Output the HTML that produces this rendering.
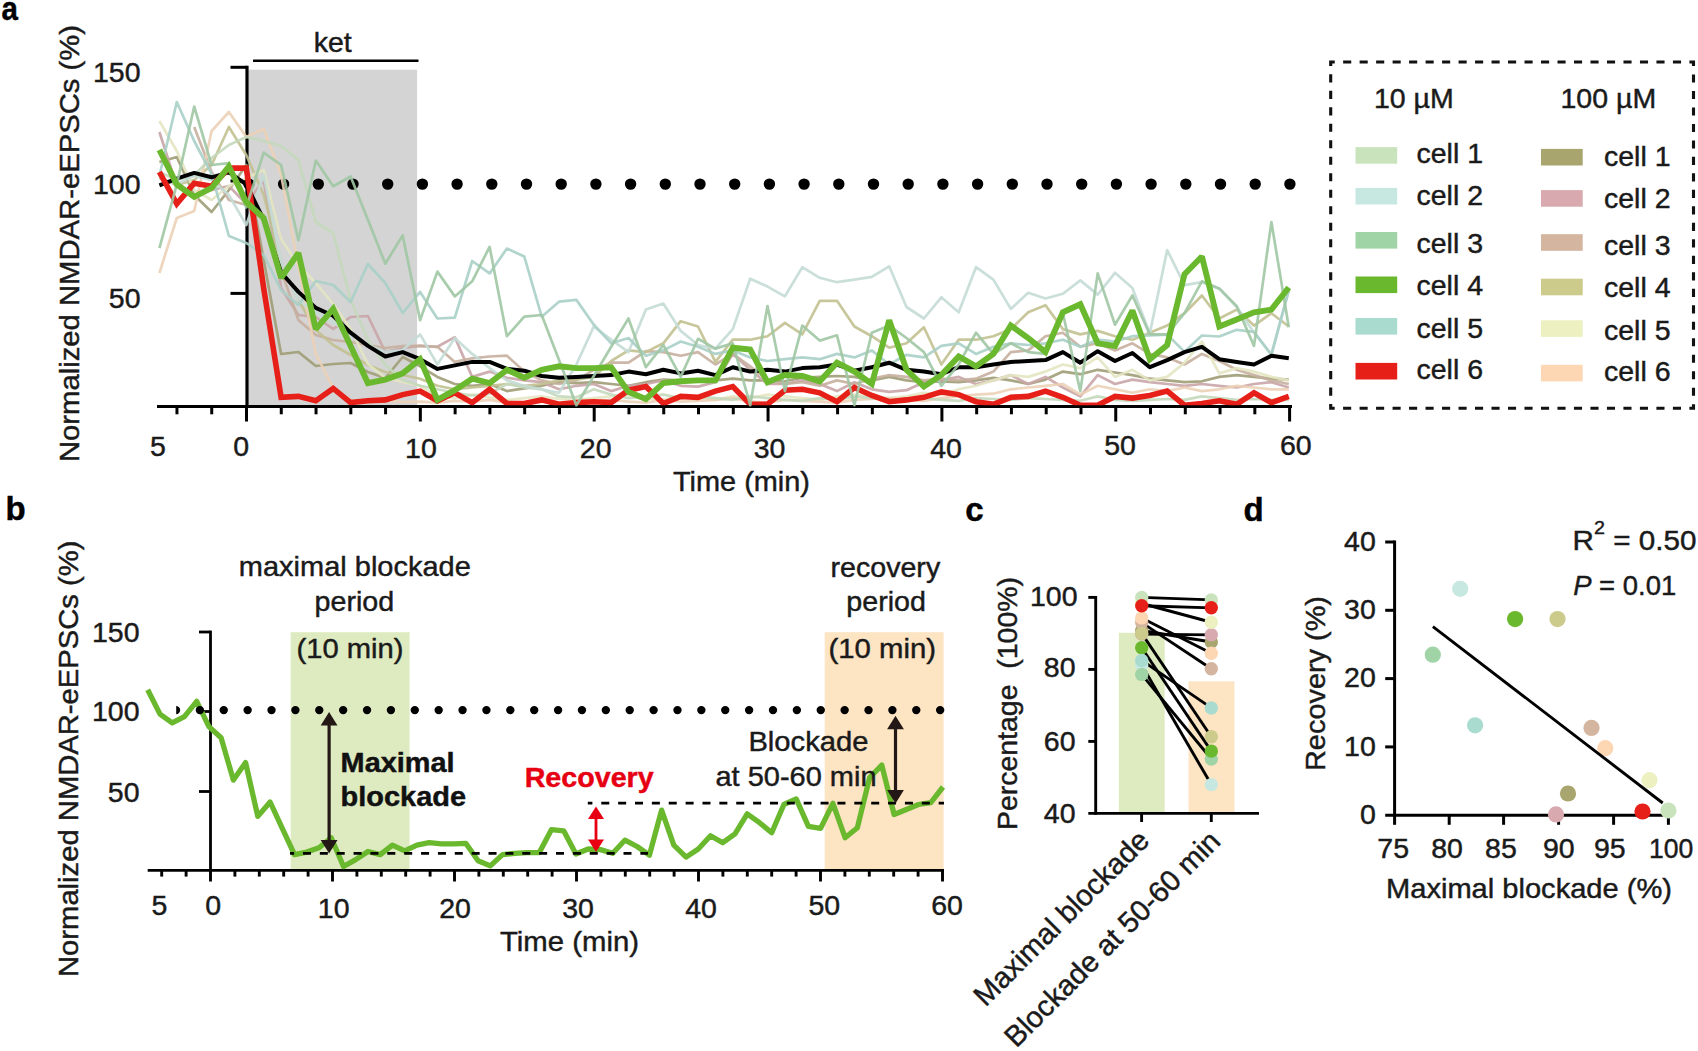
<!DOCTYPE html>
<html lang="en">
<head>
<meta charset="utf-8">
<title>Figure: ketamine blockade of NMDAR-eEPSCs</title>
<style>
html,body{margin:0;padding:0;background:#fff;}
body{width:1698px;height:1051px;overflow:hidden;}
svg{display:block;font-family:'Liberation Sans', sans-serif;}
</style>
</head>
<body>
<svg width="1698" height="1051" viewBox="0 0 1698 1051">
<rect width="1698" height="1051" fill="#ffffff"/>
<g id="panel-a">
<rect x="248.3" y="69.7" width="168.8" height="336" fill="#d4d4d4"/>
<line x1="253.00" y1="60.80" x2="418.50" y2="60.80" stroke="#000" stroke-width="2.6"/>
<line x1="248.9" y1="184.1" x2="1290.5" y2="184.1" stroke="#000" stroke-width="11.4" stroke-linecap="round" stroke-dasharray="0 34.7"/>
<line x1="247.00" y1="65.80" x2="247.00" y2="408.00" stroke="#000" stroke-width="3.2"/>
<line x1="157.00" y1="406.50" x2="1292.00" y2="406.50" stroke="#000" stroke-width="3.2"/>
<line x1="230.50" y1="67.30" x2="247.00" y2="67.30" stroke="#000" stroke-width="3.0"/>
<line x1="230.50" y1="181.00" x2="247.00" y2="181.00" stroke="#000" stroke-width="3.0"/>
<line x1="230.50" y1="293.40" x2="247.00" y2="293.40" stroke="#000" stroke-width="3.0"/>
<line x1="176.96" y1="406.50" x2="176.96" y2="414.30" stroke="#000" stroke-width="3.0"/>
<line x1="211.73" y1="406.50" x2="211.73" y2="414.30" stroke="#000" stroke-width="3.0"/>
<line x1="246.50" y1="406.50" x2="246.50" y2="421.50" stroke="#000" stroke-width="3.0"/>
<line x1="281.27" y1="406.50" x2="281.27" y2="414.30" stroke="#000" stroke-width="3.0"/>
<line x1="316.04" y1="406.50" x2="316.04" y2="414.30" stroke="#000" stroke-width="3.0"/>
<line x1="350.81" y1="406.50" x2="350.81" y2="414.30" stroke="#000" stroke-width="3.0"/>
<line x1="385.58" y1="406.50" x2="385.58" y2="414.30" stroke="#000" stroke-width="3.0"/>
<line x1="420.35" y1="406.50" x2="420.35" y2="421.50" stroke="#000" stroke-width="3.0"/>
<line x1="455.12" y1="406.50" x2="455.12" y2="414.30" stroke="#000" stroke-width="3.0"/>
<line x1="489.89" y1="406.50" x2="489.89" y2="414.30" stroke="#000" stroke-width="3.0"/>
<line x1="524.66" y1="406.50" x2="524.66" y2="414.30" stroke="#000" stroke-width="3.0"/>
<line x1="559.43" y1="406.50" x2="559.43" y2="414.30" stroke="#000" stroke-width="3.0"/>
<line x1="594.20" y1="406.50" x2="594.20" y2="421.50" stroke="#000" stroke-width="3.0"/>
<line x1="628.97" y1="406.50" x2="628.97" y2="414.30" stroke="#000" stroke-width="3.0"/>
<line x1="663.74" y1="406.50" x2="663.74" y2="414.30" stroke="#000" stroke-width="3.0"/>
<line x1="698.51" y1="406.50" x2="698.51" y2="414.30" stroke="#000" stroke-width="3.0"/>
<line x1="733.28" y1="406.50" x2="733.28" y2="414.30" stroke="#000" stroke-width="3.0"/>
<line x1="768.05" y1="406.50" x2="768.05" y2="421.50" stroke="#000" stroke-width="3.0"/>
<line x1="802.82" y1="406.50" x2="802.82" y2="414.30" stroke="#000" stroke-width="3.0"/>
<line x1="837.59" y1="406.50" x2="837.59" y2="414.30" stroke="#000" stroke-width="3.0"/>
<line x1="872.36" y1="406.50" x2="872.36" y2="414.30" stroke="#000" stroke-width="3.0"/>
<line x1="907.13" y1="406.50" x2="907.13" y2="414.30" stroke="#000" stroke-width="3.0"/>
<line x1="941.90" y1="406.50" x2="941.90" y2="421.50" stroke="#000" stroke-width="3.0"/>
<line x1="976.67" y1="406.50" x2="976.67" y2="414.30" stroke="#000" stroke-width="3.0"/>
<line x1="1011.44" y1="406.50" x2="1011.44" y2="414.30" stroke="#000" stroke-width="3.0"/>
<line x1="1046.21" y1="406.50" x2="1046.21" y2="414.30" stroke="#000" stroke-width="3.0"/>
<line x1="1080.98" y1="406.50" x2="1080.98" y2="414.30" stroke="#000" stroke-width="3.0"/>
<line x1="1115.75" y1="406.50" x2="1115.75" y2="421.50" stroke="#000" stroke-width="3.0"/>
<line x1="1150.52" y1="406.50" x2="1150.52" y2="414.30" stroke="#000" stroke-width="3.0"/>
<line x1="1185.29" y1="406.50" x2="1185.29" y2="414.30" stroke="#000" stroke-width="3.0"/>
<line x1="1220.06" y1="406.50" x2="1220.06" y2="414.30" stroke="#000" stroke-width="3.0"/>
<line x1="1254.83" y1="406.50" x2="1254.83" y2="414.30" stroke="#000" stroke-width="3.0"/>
<line x1="1289.60" y1="406.50" x2="1289.60" y2="421.50" stroke="#000" stroke-width="3.0"/>
<polyline points="159.4,162.0 176.8,157.0 194.2,195.0 211.6,212.0 228.9,190.0 246.3,165.0 263.7,260.0 281.1,354.0 298.4,352.0 315.8,366.0 333.2,364.0 350.6,363.0 367.9,372.0 385.3,378.0 402.7,357.0 420.1,366.3 437.4,376.9 454.8,384.0 472.2,385.8 489.6,384.0 506.9,391.1 524.3,388.4 541.7,385.8 559.0,382.2 576.4,383.1 593.8,382.2 611.2,384.0 628.5,385.8 645.9,382.2 663.3,379.6 680.7,380.4 698.0,380.4 715.4,380.4 732.8,378.7 750.2,380.4 767.5,380.4 784.9,381.3 802.3,377.8 819.7,376.9 837.0,376.0 854.4,376.9 871.8,380.4 889.2,376.9 906.5,380.4 923.9,382.2 941.3,381.3 958.7,382.2 976.0,380.4 993.4,377.8 1010.8,380.4 1028.2,384.0 1045.5,379.6 1062.9,371.6 1080.3,374.2 1097.7,369.8 1115.0,372.5 1132.4,375.1 1149.8,378.7 1167.2,380.4 1184.5,382.2 1201.9,381.3 1219.3,376.9 1236.7,375.1 1254.0,376.9 1271.4,378.7 1288.8,379.6" fill="none" stroke="#a09d75" stroke-width="2.7" stroke-linejoin="round" stroke-opacity="0.9"/>
<polyline points="159.4,132.0 176.8,186.0 194.2,195.0 211.6,190.0 228.9,186.0 246.3,204.0 263.7,180.0 281.1,288.0 298.4,315.0 315.8,317.0 333.2,329.0 350.6,317.0 367.9,316.0 385.3,352.0 402.7,348.0 420.1,345.9 437.4,346.8 454.8,337.1 472.2,376.9 489.6,371.6 506.9,377.8 524.3,380.4 541.7,382.2 559.0,389.3 576.4,385.8 593.8,384.0 611.2,391.1 628.5,385.8 645.9,384.0 663.3,380.4 680.7,385.8 698.0,386.6 715.4,382.2 732.8,353.9 750.2,369.8 767.5,384.0 784.9,384.0 802.3,380.4 819.7,384.0 837.0,391.1 854.4,382.2 871.8,389.3 889.2,391.9 906.5,390.2 923.9,382.2 941.3,380.4 958.7,376.9 976.0,384.0 993.4,380.4 1010.8,375.1 1028.2,384.0 1045.5,376.9 1062.9,387.5 1080.3,396.4 1097.7,375.1 1115.0,384.0 1132.4,379.6 1149.8,382.2 1167.2,384.0 1184.5,385.8 1201.9,384.0 1219.3,385.8 1236.7,387.5 1254.0,384.0 1271.4,382.2 1288.8,387.5" fill="none" stroke="#c9a5a9" stroke-width="2.7" stroke-linejoin="round" stroke-opacity="0.9"/>
<polyline points="194.2,127.0 211.6,172.0 228.9,200.0 246.3,205.0 263.7,215.0 281.1,270.0 298.4,320.0 315.8,335.0 333.2,340.0 350.6,342.0 367.9,345.0 385.3,348.0 402.7,346.0 420.1,345.9 437.4,346.8 454.8,361.9 472.2,358.3 489.6,356.5 506.9,355.7 524.3,371.6 541.7,380.4 559.0,384.0 576.4,380.4 593.8,369.8 611.2,362.7 628.5,362.7 645.9,351.2 663.3,352.1 680.7,355.7 698.0,352.1 715.4,364.5 732.8,353.9 750.2,366.3 767.5,380.4 784.9,384.0 802.3,382.2 819.7,385.8 837.0,380.4 854.4,384.0 871.8,378.7 889.2,375.1 906.5,376.9 923.9,380.4 941.3,378.7 958.7,380.4 976.0,378.7 993.4,371.6 1010.8,352.1 1028.2,350.4 1045.5,336.2 1062.9,332.7 1080.3,346.8 1097.7,343.3 1115.0,350.4 1132.4,343.3 1149.8,353.9 1167.2,357.4 1184.5,364.5 1201.9,353.9 1219.3,361.0 1236.7,369.8 1254.0,375.1 1271.4,380.4 1288.8,384.0" fill="none" stroke="#c6af9f" stroke-width="2.7" stroke-linejoin="round" stroke-opacity="0.9"/>
<polyline points="159.4,178.0 176.8,185.0 194.2,180.0 211.6,165.0 228.9,127.0 246.3,155.0 263.7,195.0 281.1,262.0 298.4,300.0 315.8,330.0 333.2,345.0 350.6,355.0 367.9,365.0 385.3,372.0 402.7,375.0 420.1,378.7 437.4,385.8 454.8,389.3 472.2,387.5 489.6,385.8 506.9,384.0 524.3,385.8 541.7,384.0 559.0,380.4 576.4,379.6 593.8,376.9 611.2,361.0 628.5,350.4 645.9,352.1 663.3,343.3 680.7,321.2 698.0,326.5 715.4,361.9 732.8,339.7 750.2,339.7 767.5,336.2 784.9,322.9 802.3,334.4 819.7,300.8 837.0,300.8 854.4,326.5 871.8,336.2 889.2,347.7 906.5,343.3 923.9,327.3 941.3,364.5 958.7,339.7 976.0,339.7 993.4,336.2 1010.8,329.1 1028.2,312.3 1045.5,305.2 1062.9,329.1 1080.3,334.4 1097.7,330.9 1115.0,336.2 1132.4,339.7 1149.8,332.7 1167.2,325.6 1184.5,313.2 1201.9,295.5 1219.3,318.5 1236.7,309.6 1254.0,325.6 1271.4,313.2 1288.8,326.5" fill="none" stroke="#c2c191" stroke-width="2.7" stroke-linejoin="round" stroke-opacity="0.9"/>
<polyline points="159.4,121.0 176.8,151.0 194.2,190.0 211.6,200.0 228.9,186.0 246.3,178.0 263.7,170.0 281.1,239.0 298.4,265.0 315.8,283.0 333.2,304.0 350.6,329.0 367.9,364.0 385.3,378.0 402.7,382.0 420.1,385.8 437.4,396.4 454.8,398.1 472.2,394.6 489.6,397.3 506.9,399.9 524.3,398.1 541.7,396.4 559.0,399.0 576.4,399.9 593.8,398.1 611.2,396.4 628.5,394.6 645.9,398.1 663.3,399.9 680.7,396.4 698.0,398.1 715.4,399.9 732.8,396.4 750.2,398.1 767.5,394.6 784.9,396.4 802.3,398.1 819.7,399.9 837.0,396.4 854.4,394.6 871.8,396.4 889.2,398.1 906.5,396.4 923.9,392.8 941.3,394.6 958.7,389.3 976.0,385.8 993.4,380.4 1010.8,375.1 1028.2,376.9 1045.5,371.6 1062.9,364.5 1080.3,368.1 1097.7,357.4 1115.0,376.9 1132.4,369.8 1149.8,380.4 1167.2,376.9 1184.5,362.7 1201.9,341.5 1219.3,373.4 1236.7,368.1 1254.0,371.6 1271.4,376.9 1288.8,380.4" fill="none" stroke="#e3e6c2" stroke-width="2.7" stroke-linejoin="round" stroke-opacity="0.9"/>
<polyline points="159.4,273.0 176.8,218.0 194.2,211.0 211.6,131.0 228.9,112.0 246.3,137.0 263.7,129.0 281.1,175.0 298.4,266.0 315.8,354.0 333.2,388.0 350.6,400.0 367.9,402.0 385.3,401.0 402.7,402.0 420.1,401.7 437.4,402.6 454.8,400.8 472.2,401.7 489.6,399.9 506.9,402.6 524.3,403.5 541.7,401.7 559.0,402.6 576.4,403.5 593.8,401.7 611.2,399.9 628.5,401.7 645.9,402.6 663.3,399.9 680.7,401.7 698.0,400.8 715.4,399.9 732.8,398.1 750.2,401.7 767.5,402.6 784.9,399.9 802.3,400.8 819.7,401.7 837.0,402.6 854.4,399.9 871.8,399.0 889.2,398.1 906.5,399.9 923.9,400.8 941.3,398.1 958.7,396.4 976.0,394.6 993.4,393.7 1010.8,389.3 1028.2,387.5 1045.5,385.8 1062.9,384.0 1080.3,394.6 1097.7,385.8 1115.0,389.3 1132.4,392.8 1149.8,389.3 1167.2,391.1 1184.5,387.5 1201.9,391.1 1219.3,389.3 1236.7,385.8 1254.0,387.5 1271.4,389.3 1288.8,389.3" fill="none" stroke="#ecd0b6" stroke-width="2.7" stroke-linejoin="round" stroke-opacity="0.9"/>
<polyline points="159.4,172.0 176.8,180.0 194.2,175.0 211.6,158.0 228.9,145.0 246.3,137.0 263.7,141.0 281.1,146.0 298.4,160.0 315.8,222.0 333.2,233.0 350.6,300.0 367.9,340.0 385.3,365.0 402.7,380.0 420.1,385.8 437.4,389.3 454.8,392.8 472.2,395.5 489.6,393.7 506.9,384.0 524.3,387.5 541.7,389.3 559.0,396.4 576.4,397.3 593.8,389.3 611.2,394.6 628.5,398.1 645.9,396.4 663.3,394.6 680.7,398.1 698.0,396.4 715.4,398.1 732.8,399.9 750.2,396.4 767.5,398.1 784.9,399.9 802.3,400.8 819.7,398.1 837.0,399.9 854.4,396.4 871.8,398.1 889.2,399.9 906.5,399.0 923.9,398.1 941.3,399.9 958.7,400.8 976.0,398.1 993.4,399.0 1010.8,399.9 1028.2,398.1 1045.5,399.0 1062.9,399.9 1080.3,400.8 1097.7,396.4 1115.0,399.9 1132.4,400.8 1149.8,399.9 1167.2,399.0 1184.5,399.9 1201.9,396.4 1219.3,398.1 1236.7,399.9 1254.0,399.0 1271.4,399.9 1288.8,399.9" fill="none" stroke="#c4d8bb" stroke-width="2.7" stroke-linejoin="round" stroke-opacity="0.9"/>
<polyline points="159.4,178.0 176.8,184.0 194.2,176.0 211.6,180.0 228.9,195.0 246.3,225.0 263.7,175.0 281.1,262.0 298.4,300.0 315.8,312.0 333.2,322.0 350.6,335.0 367.9,345.0 385.3,352.0 402.7,350.0 420.1,334.4 437.4,364.5 454.8,338.0 472.2,353.9 489.6,368.1 506.9,380.4 524.3,385.8 541.7,389.3 559.0,392.8 576.4,364.5 593.8,326.5 611.2,339.7 628.5,352.1 645.9,309.6 663.3,303.5 680.7,330.9 698.0,345.0 715.4,348.6 732.8,329.1 750.2,278.7 767.5,286.6 784.9,296.4 802.3,267.2 819.7,277.8 837.0,282.2 854.4,279.6 871.8,276.9 889.2,266.3 906.5,307.0 923.9,318.5 941.3,297.3 958.7,312.3 976.0,267.2 993.4,279.6 1010.8,308.9 1028.2,292.8 1045.5,298.5 1062.9,293.7 1080.3,280.4 1097.7,294.6 1115.0,272.8 1132.4,288.1 1149.8,333.5 1167.2,250.0 1184.5,285.2 1201.9,282.2 1219.3,288.9 1236.7,307.0 1254.0,332.7 1271.4,354.6 1288.8,290.9" fill="none" stroke="#c4dcd6" stroke-width="2.7" stroke-linejoin="round" stroke-opacity="0.9"/>
<polyline points="159.4,176.0 176.8,102.0 194.2,141.0 211.6,174.0 228.9,236.0 246.3,243.0 263.7,255.0 281.1,290.0 298.4,305.0 315.8,281.0 333.2,285.0 350.6,302.0 367.9,264.0 385.3,283.0 402.7,313.0 420.1,291.9 437.4,318.5 454.8,317.6 472.2,261.0 489.6,273.4 506.9,248.6 524.3,256.5 541.7,316.7 559.0,301.7 576.4,299.9 593.8,324.7 611.2,343.3 628.5,338.0 645.9,355.7 663.3,350.4 680.7,341.5 698.0,346.8 715.4,353.9 732.8,350.4 750.2,357.4 767.5,361.0 784.9,359.2 802.3,357.4 819.7,359.2 837.0,353.9 854.4,357.4 871.8,350.4 889.2,364.5 906.5,354.8 923.9,357.4 941.3,345.9 958.7,343.3 976.0,353.9 993.4,346.8 1010.8,343.3 1028.2,345.0 1045.5,343.3 1062.9,339.7 1080.3,346.8 1097.7,339.7 1115.0,341.5 1132.4,336.2 1149.8,335.5 1167.2,334.6 1184.5,351.8 1201.9,335.5 1219.3,336.5 1236.7,329.8 1254.0,331.8 1271.4,354.6 1288.8,289.8" fill="none" stroke="#a9cfc6" stroke-width="2.7" stroke-linejoin="round" stroke-opacity="0.9"/>
<clipPath id="ca"><rect x="100" y="0" width="1300" height="405.2"/></clipPath>
<g clip-path="url(#ca)">
<polyline points="159.4,185.3 176.8,178.6 194.2,172.9 211.6,177.3 228.9,172.4 246.3,184.4 263.7,219.8 281.1,272.5 298.4,291.9 315.8,307.9 333.2,315.8 350.6,332.7 367.9,345.9 385.3,356.5 402.7,352.1 420.1,359.2 437.4,368.9 454.8,365.4 472.2,361.9 489.6,361.9 506.9,368.9 524.3,370.7 541.7,376.0 559.0,377.8 576.4,376.9 593.8,376.0 611.2,375.1 628.5,371.6 645.9,374.2 663.3,369.8 680.7,373.4 698.0,370.7 715.4,375.1 732.8,367.2 750.2,371.6 767.5,369.8 784.9,371.6 802.3,368.1 819.7,367.2 837.0,364.5 854.4,370.7 871.8,367.2 889.2,362.7 906.5,369.8 923.9,371.6 941.3,374.2 958.7,367.2 976.0,367.2 993.4,364.5 1010.8,361.9 1028.2,361.0 1045.5,360.1 1062.9,352.1 1080.3,362.7 1097.7,351.2 1115.0,361.0 1132.4,353.0 1149.8,367.2 1167.2,360.1 1184.5,352.1 1201.9,346.8 1219.3,359.2 1236.7,361.9 1254.0,364.5 1271.4,355.7 1288.8,358.3" fill="none" stroke="#000" stroke-width="4.0" stroke-linejoin="round"/>
<polyline points="159.4,172.0 176.8,203.9 194.2,183.2 211.6,186.2 228.9,168.1 246.3,168.1 263.7,288.4 281.1,397.3 298.4,396.4 315.8,400.8 333.2,388.4 350.6,402.6 367.9,400.8 385.3,399.9 402.7,394.6 420.1,391.1 437.4,400.8 454.8,392.8 472.2,402.6 489.6,389.3 506.9,403.5 524.3,403.5 541.7,399.9 559.0,404.3 576.4,402.6 593.8,401.7 611.2,402.6 628.5,390.2 645.9,386.6 663.3,403.5 680.7,396.4 698.0,397.3 715.4,391.1 732.8,386.6 750.2,404.3 767.5,404.3 784.9,390.2 802.3,389.3 819.7,392.8 837.0,401.7 854.4,387.5 871.8,395.5 889.2,401.7 906.5,399.9 923.9,397.3 941.3,391.9 958.7,394.6 976.0,401.7 993.4,404.3 1010.8,397.3 1028.2,396.4 1045.5,391.1 1062.9,397.3 1080.3,405.2 1097.7,405.2 1115.0,396.4 1132.4,398.1 1149.8,395.5 1167.2,391.1 1184.5,405.2 1201.9,403.5 1219.3,400.8 1236.7,404.3 1254.0,392.8 1271.4,402.6 1288.8,396.4" fill="none" stroke="#e71f19" stroke-width="5.6" stroke-linejoin="miter" stroke-miterlimit="2"/>
</g>
<polyline points="159.4,248.1 176.8,184.4 194.2,106.5 211.6,165.0 228.9,163.2 246.3,207.4 263.7,152.6 281.1,165.0 298.4,240.2 315.8,160.5 333.2,186.2 350.6,176.5 367.9,219.8 385.3,263.7 402.7,235.4 420.1,320.3 437.4,271.6 454.8,296.4 472.2,281.3 489.6,246.8 506.9,336.2 524.3,316.7 541.7,315.0 559.0,360.1 576.4,405.2 593.8,376.0 611.2,346.8 628.5,318.5 645.9,367.2 663.3,345.0 680.7,376.9 698.0,338.8 715.4,348.6 732.8,343.3 750.2,405.2 767.5,306.1 784.9,391.1 802.3,325.6 819.7,340.6 837.0,335.3 854.4,405.2 871.8,332.7 889.2,325.6 906.5,338.0 923.9,352.1 941.3,385.8 958.7,364.5 976.0,332.7 993.4,353.9 1010.8,343.3 1028.2,352.1 1045.5,353.9 1062.9,313.2 1080.3,391.1 1097.7,273.4 1115.0,324.7 1132.4,295.5 1149.8,334.4 1167.2,334.4 1184.5,313.2 1201.9,281.3 1219.3,288.4 1236.7,306.1 1254.0,345.9 1271.4,222.0 1288.8,327.3" fill="none" stroke="#a0c6a4" stroke-width="2.7" stroke-linejoin="round" stroke-opacity="0.9"/>
<g clip-path="url(#ca)">
<polyline points="159.4,149.9 176.8,184.4 194.2,196.8 211.6,188.0 228.9,166.4 246.3,202.1 263.7,218.1 281.1,277.8 298.4,253.0 315.8,329.1 333.2,308.8 350.6,345.9 367.9,383.1 385.3,379.6 402.7,373.4 420.1,359.2 437.4,399.9 454.8,390.2 472.2,378.7 489.6,383.1 506.9,369.8 524.3,377.8 541.7,369.8 559.0,366.3 576.4,368.1 593.8,368.1 611.2,367.2 628.5,391.9 645.9,399.0 663.3,383.1 680.7,381.3 698.0,380.4 715.4,380.4 732.8,347.7 750.2,349.5 767.5,382.2 784.9,375.1 802.3,376.0 819.7,381.3 837.0,362.7 854.4,371.6 871.8,384.0 889.2,320.3 906.5,369.8 923.9,386.6 941.3,375.1 958.7,356.5 976.0,366.3 993.4,353.9 1010.8,325.6 1028.2,338.0 1045.5,352.1 1062.9,312.3 1080.3,304.3 1097.7,343.3 1115.0,345.9 1132.4,310.5 1149.8,359.2 1167.2,345.0 1184.5,274.2 1201.9,256.5 1219.3,326.5 1236.7,319.4 1254.0,312.3 1271.4,309.6 1288.8,287.5" fill="none" stroke="#6ab82d" stroke-width="5.9" stroke-linejoin="miter" stroke-miterlimit="2"/>
</g>
<text x="332.7" y="51.7" font-size="28.5" text-anchor="middle" fill="#1a1a1a" stroke="#1a1a1a" stroke-width="0.45">ket</text>
<text x="140.5" y="81.8" font-size="28.5" text-anchor="end" fill="#1a1a1a" stroke="#1a1a1a" stroke-width="0.45">150</text>
<text x="140.5" y="194" font-size="28.5" text-anchor="end" fill="#1a1a1a" stroke="#1a1a1a" stroke-width="0.45">100</text>
<text x="140.5" y="308.2" font-size="28.5" text-anchor="end" fill="#1a1a1a" stroke="#1a1a1a" stroke-width="0.45">50</text>
<text x="158" y="456.2" font-size="28.5" text-anchor="middle" fill="#1a1a1a" stroke="#1a1a1a" stroke-width="0.45">5</text>
<text x="241.3" y="456.2" font-size="28.5" text-anchor="middle" fill="#1a1a1a" stroke="#1a1a1a" stroke-width="0.45">0</text>
<text x="420.9" y="458" font-size="28.5" text-anchor="middle" fill="#1a1a1a" stroke="#1a1a1a" stroke-width="0.45">10</text>
<text x="595.7" y="458" font-size="28.5" text-anchor="middle" fill="#1a1a1a" stroke="#1a1a1a" stroke-width="0.45">20</text>
<text x="769.6" y="458" font-size="28.5" text-anchor="middle" fill="#1a1a1a" stroke="#1a1a1a" stroke-width="0.45">30</text>
<text x="946.0" y="458" font-size="28.5" text-anchor="middle" fill="#1a1a1a" stroke="#1a1a1a" stroke-width="0.45">40</text>
<text x="1120.0" y="455.4" font-size="28.5" text-anchor="middle" fill="#1a1a1a" stroke="#1a1a1a" stroke-width="0.45">50</text>
<text x="1295.8" y="455.4" font-size="28.5" text-anchor="middle" fill="#1a1a1a" stroke="#1a1a1a" stroke-width="0.45">60</text>
<text x="673" y="490.5" font-size="28.5" textLength="137" lengthAdjust="spacingAndGlyphs" fill="#1a1a1a" stroke="#1a1a1a" stroke-width="0.45">Time (min)</text>
<text x="79" y="462" font-size="28.5" transform="rotate(-90 79 462)" textLength="437" lengthAdjust="spacingAndGlyphs" fill="#1a1a1a" stroke="#1a1a1a" stroke-width="0.45">Normalized NMDAR-eEPSCs (%)</text>
<text x="1.4" y="20.2" font-size="33" font-weight="bold" textLength="16.4" lengthAdjust="spacingAndGlyphs" fill="#000" stroke="#000" stroke-width="0.45">a</text>
</g>
<g id="legend">
<path d="M1330.7 62 h362.8 v346.2 h-362.8 z" fill="none" stroke="#111" stroke-width="3.1" stroke-dasharray="8.1 8.39" stroke-dashoffset="4.05"/>
<text x="1374" y="107.5" font-size="28.5" fill="#1a1a1a" stroke="#1a1a1a" stroke-width="0.45">10 µM</text>
<text x="1560.5" y="107.5" font-size="28.5" fill="#1a1a1a" stroke="#1a1a1a" stroke-width="0.45">100 µM</text>
<rect x="1355.5" y="147.1" width="41.7" height="16.6" fill="#c9e4bd"/>
<text x="1416.5" y="163.3" font-size="28.5" fill="#1a1a1a" stroke="#1a1a1a" stroke-width="0.45">cell 1</text>
<rect x="1355.5" y="187.9" width="41.7" height="16.6" fill="#c7e8e0"/>
<text x="1416.5" y="204.6" font-size="28.5" fill="#1a1a1a" stroke="#1a1a1a" stroke-width="0.45">cell 2</text>
<rect x="1355.5" y="232.0" width="41.7" height="16.6" fill="#a0d3a5"/>
<text x="1416.5" y="253.0" font-size="28.5" fill="#1a1a1a" stroke="#1a1a1a" stroke-width="0.45">cell 3</text>
<rect x="1355.5" y="276.5" width="41.7" height="16.6" fill="#6ab82d"/>
<text x="1416.5" y="294.6" font-size="28.5" fill="#1a1a1a" stroke="#1a1a1a" stroke-width="0.45">cell 4</text>
<rect x="1355.5" y="318.0" width="41.7" height="16.6" fill="#a9dbcf"/>
<text x="1416.5" y="338.3" font-size="28.5" fill="#1a1a1a" stroke="#1a1a1a" stroke-width="0.45">cell 5</text>
<rect x="1355.5" y="362.9" width="41.7" height="16.6" fill="#e71f19"/>
<text x="1416.5" y="379.3" font-size="28.5" fill="#1a1a1a" stroke="#1a1a1a" stroke-width="0.45">cell 6</text>
<rect x="1541" y="148.9" width="41.7" height="16.6" fill="#a9a56f"/>
<text x="1604" y="166.0" font-size="28.5" fill="#1a1a1a" stroke="#1a1a1a" stroke-width="0.45">cell 1</text>
<rect x="1541" y="190.1" width="41.7" height="16.6" fill="#d8a9ae"/>
<text x="1604" y="207.5" font-size="28.5" fill="#1a1a1a" stroke="#1a1a1a" stroke-width="0.45">cell 2</text>
<rect x="1541" y="234.2" width="41.7" height="16.6" fill="#d4b59f"/>
<text x="1604" y="254.8" font-size="28.5" fill="#1a1a1a" stroke="#1a1a1a" stroke-width="0.45">cell 3</text>
<rect x="1541" y="278.7" width="41.7" height="16.6" fill="#cccb8b"/>
<text x="1604" y="296.8" font-size="28.5" fill="#1a1a1a" stroke="#1a1a1a" stroke-width="0.45">cell 4</text>
<rect x="1541" y="320.3" width="41.7" height="16.6" fill="#edf1c1"/>
<text x="1604" y="339.5" font-size="28.5" fill="#1a1a1a" stroke="#1a1a1a" stroke-width="0.45">cell 5</text>
<rect x="1541" y="364.8" width="41.7" height="16.6" fill="#fdd7b4"/>
<text x="1604" y="381.1" font-size="28.5" fill="#1a1a1a" stroke="#1a1a1a" stroke-width="0.45">cell 6</text>
</g>
<g id="panel-b">
<rect x="290.7" y="632.2" width="118.9" height="237.5" fill="#deebc0"/>
<rect x="824.7" y="632.2" width="118.9" height="237.5" fill="#fde4c3"/>
<clipPath id="cb"><rect x="176.2" y="700" width="800" height="20"/></clipPath>
<line x1="210.50" y1="630.60" x2="210.50" y2="871.70" stroke="#000" stroke-width="2.8"/>
<line x1="147.70" y1="870.40" x2="944.00" y2="870.40" stroke="#000" stroke-width="2.9"/>
<line x1="199.00" y1="632.00" x2="210.50" y2="632.00" stroke="#000" stroke-width="2.8"/>
<line x1="199.00" y1="711.50" x2="210.50" y2="711.50" stroke="#000" stroke-width="2.8"/>
<line x1="199.00" y1="791.50" x2="210.50" y2="791.50" stroke="#000" stroke-width="2.8"/>
<line x1="161.70" y1="870.40" x2="161.70" y2="876.60" stroke="#000" stroke-width="2.9"/>
<line x1="186.10" y1="870.40" x2="186.10" y2="876.60" stroke="#000" stroke-width="2.9"/>
<line x1="210.50" y1="870.40" x2="210.50" y2="881.50" stroke="#000" stroke-width="2.9"/>
<line x1="234.90" y1="870.40" x2="234.90" y2="876.60" stroke="#000" stroke-width="2.9"/>
<line x1="259.30" y1="870.40" x2="259.30" y2="876.60" stroke="#000" stroke-width="2.9"/>
<line x1="283.70" y1="870.40" x2="283.70" y2="876.60" stroke="#000" stroke-width="2.9"/>
<line x1="308.10" y1="870.40" x2="308.10" y2="876.60" stroke="#000" stroke-width="2.9"/>
<line x1="332.50" y1="870.40" x2="332.50" y2="881.50" stroke="#000" stroke-width="2.9"/>
<line x1="356.90" y1="870.40" x2="356.90" y2="876.60" stroke="#000" stroke-width="2.9"/>
<line x1="381.30" y1="870.40" x2="381.30" y2="876.60" stroke="#000" stroke-width="2.9"/>
<line x1="405.70" y1="870.40" x2="405.70" y2="876.60" stroke="#000" stroke-width="2.9"/>
<line x1="430.10" y1="870.40" x2="430.10" y2="876.60" stroke="#000" stroke-width="2.9"/>
<line x1="454.50" y1="870.40" x2="454.50" y2="881.50" stroke="#000" stroke-width="2.9"/>
<line x1="478.90" y1="870.40" x2="478.90" y2="876.60" stroke="#000" stroke-width="2.9"/>
<line x1="503.30" y1="870.40" x2="503.30" y2="876.60" stroke="#000" stroke-width="2.9"/>
<line x1="527.70" y1="870.40" x2="527.70" y2="876.60" stroke="#000" stroke-width="2.9"/>
<line x1="552.10" y1="870.40" x2="552.10" y2="876.60" stroke="#000" stroke-width="2.9"/>
<line x1="576.50" y1="870.40" x2="576.50" y2="881.50" stroke="#000" stroke-width="2.9"/>
<line x1="600.90" y1="870.40" x2="600.90" y2="876.60" stroke="#000" stroke-width="2.9"/>
<line x1="625.30" y1="870.40" x2="625.30" y2="876.60" stroke="#000" stroke-width="2.9"/>
<line x1="649.70" y1="870.40" x2="649.70" y2="876.60" stroke="#000" stroke-width="2.9"/>
<line x1="674.10" y1="870.40" x2="674.10" y2="876.60" stroke="#000" stroke-width="2.9"/>
<line x1="698.50" y1="870.40" x2="698.50" y2="881.50" stroke="#000" stroke-width="2.9"/>
<line x1="722.90" y1="870.40" x2="722.90" y2="876.60" stroke="#000" stroke-width="2.9"/>
<line x1="747.30" y1="870.40" x2="747.30" y2="876.60" stroke="#000" stroke-width="2.9"/>
<line x1="771.70" y1="870.40" x2="771.70" y2="876.60" stroke="#000" stroke-width="2.9"/>
<line x1="796.10" y1="870.40" x2="796.10" y2="876.60" stroke="#000" stroke-width="2.9"/>
<line x1="820.50" y1="870.40" x2="820.50" y2="881.50" stroke="#000" stroke-width="2.9"/>
<line x1="844.90" y1="870.40" x2="844.90" y2="876.60" stroke="#000" stroke-width="2.9"/>
<line x1="869.30" y1="870.40" x2="869.30" y2="876.60" stroke="#000" stroke-width="2.9"/>
<line x1="893.70" y1="870.40" x2="893.70" y2="876.60" stroke="#000" stroke-width="2.9"/>
<line x1="918.10" y1="870.40" x2="918.10" y2="876.60" stroke="#000" stroke-width="2.9"/>
<line x1="942.50" y1="870.40" x2="942.50" y2="881.50" stroke="#000" stroke-width="2.9"/>
<polyline points="147.7,689.7 160.0,714.1 172.2,722.8 184.4,716.6 196.7,701.3 208.9,726.6 221.1,737.8 233.4,780.1 245.6,762.6 257.8,816.4 270.1,802.0 282.3,828.3 294.5,854.6 306.8,852.1 319.0,847.7 331.2,837.7 343.5,866.5 355.7,859.6 368.0,851.5 380.2,854.6 392.4,845.2 404.7,850.8 416.9,845.2 429.1,842.7 441.4,843.9 453.6,843.9 465.8,843.3 478.1,860.8 490.3,865.9 502.5,854.6 514.8,853.3 527.0,852.7 539.2,852.7 551.5,829.6 563.7,830.8 575.9,854.0 588.2,849.0 600.4,849.6 612.7,853.3 624.9,840.2 637.1,846.5 649.4,855.2 661.6,810.1 673.8,845.2 686.1,857.1 698.3,849.0 710.5,835.8 722.8,842.7 735.0,833.9 747.2,813.9 759.5,822.7 771.7,832.7 783.9,804.5 796.2,798.9 808.4,826.4 820.6,828.3 832.9,803.3 845.1,837.7 857.4,827.7 869.6,777.6 881.8,765.1 894.1,814.5 906.3,809.5 918.5,804.5 930.8,802.6 943.0,787.0" fill="none" stroke="#6ab82d" stroke-width="5.3" stroke-linejoin="round"/>
<line x1="176.0" y1="710.1" x2="945" y2="710.1" stroke="#000" stroke-width="8.4" stroke-linecap="round" stroke-dasharray="0 23.88" clip-path="url(#cb)"/>
<line x1="290.00" y1="853.30" x2="648.00" y2="853.30" stroke="#000" stroke-width="2.8" stroke-dasharray="8 8.87" stroke-dashoffset="3.9"/>
<line x1="587.80" y1="803.10" x2="944.00" y2="803.10" stroke="#000" stroke-width="2.8" stroke-dasharray="8 8.87" stroke-dashoffset="3.4"/>
<line x1="329.10" y1="724.50" x2="329.10" y2="840.90" stroke="#231815" stroke-width="3.2"/>
<polygon points="329.1,712 320.70000000000005,725.5 337.5,725.5" fill="#231815"/>
<polygon points="329.1,853.4 320.70000000000005,839.9 337.5,839.9" fill="#231815"/>
<line x1="895.50" y1="728.20" x2="895.50" y2="791.10" stroke="#231815" stroke-width="3.2"/>
<polygon points="895.5,715.7 887.1,729.2 903.9,729.2" fill="#231815"/>
<polygon points="895.5,803.6 887.1,790.1 903.9,790.1" fill="#231815"/>
<line x1="596.00" y1="818.00" x2="596.00" y2="840.50" stroke="#e60012" stroke-width="2.8"/>
<polygon points="596,806.5 588,819.0 604,819.0" fill="#e60012"/>
<polygon points="596,852 588,839.5 604,839.5" fill="#e60012"/>
<text x="238.8" y="576.4" font-size="28.5" textLength="232" lengthAdjust="spacingAndGlyphs" fill="#1a1a1a" stroke="#1a1a1a" stroke-width="0.45">maximal blockade</text>
<text x="314.6" y="611.4" font-size="28.5" textLength="79.6" lengthAdjust="spacingAndGlyphs" fill="#1a1a1a" stroke="#1a1a1a" stroke-width="0.45">period</text>
<text x="296.5" y="657.5" font-size="28.5" textLength="107" lengthAdjust="spacingAndGlyphs" fill="#1a1a1a" stroke="#1a1a1a" stroke-width="0.45">(10 min)</text>
<text x="830.5" y="577.4" font-size="28.5" textLength="109.7" lengthAdjust="spacingAndGlyphs" fill="#1a1a1a" stroke="#1a1a1a" stroke-width="0.45">recovery</text>
<text x="846.3" y="611.4" font-size="28.5" textLength="79.6" lengthAdjust="spacingAndGlyphs" fill="#1a1a1a" stroke="#1a1a1a" stroke-width="0.45">period</text>
<text x="828.5" y="657.5" font-size="28.5" textLength="107.5" lengthAdjust="spacingAndGlyphs" fill="#1a1a1a" stroke="#1a1a1a" stroke-width="0.45">(10 min)</text>
<text x="340.6" y="772" font-size="28.5" font-weight="bold" textLength="114" lengthAdjust="spacingAndGlyphs" fill="#111" stroke="#111" stroke-width="0.45">Maximal</text>
<text x="340.6" y="806.4" font-size="28.5" font-weight="bold" textLength="125.5" lengthAdjust="spacingAndGlyphs" fill="#111" stroke="#111" stroke-width="0.45">blockade</text>
<text x="524.7" y="787.1" font-size="28.5" font-weight="bold" textLength="129" lengthAdjust="spacingAndGlyphs" fill="#e60012" stroke="#e60012" stroke-width="0.45">Recovery</text>
<text x="748.4" y="751.2" font-size="28.5" textLength="120" lengthAdjust="spacingAndGlyphs" fill="#1a1a1a" stroke="#1a1a1a" stroke-width="0.45">Blockade</text>
<text x="715.5" y="786.1" font-size="28.5" textLength="161" lengthAdjust="spacingAndGlyphs" fill="#1a1a1a" stroke="#1a1a1a" stroke-width="0.45">at 50-60 min</text>
<text x="139.5" y="642" font-size="28.5" text-anchor="end" fill="#1a1a1a" stroke="#1a1a1a" stroke-width="0.45">150</text>
<text x="139.5" y="721" font-size="28.5" text-anchor="end" fill="#1a1a1a" stroke="#1a1a1a" stroke-width="0.45">100</text>
<text x="139.5" y="802.2" font-size="28.5" text-anchor="end" fill="#1a1a1a" stroke="#1a1a1a" stroke-width="0.45">50</text>
<text x="159.4" y="915" font-size="28.5" text-anchor="middle" fill="#1a1a1a" stroke="#1a1a1a" stroke-width="0.45">5</text>
<text x="213.2" y="915" font-size="28.5" text-anchor="middle" fill="#1a1a1a" stroke="#1a1a1a" stroke-width="0.45">0</text>
<text x="333.7" y="917.8" font-size="28.5" text-anchor="middle" fill="#1a1a1a" stroke="#1a1a1a" stroke-width="0.45">10</text>
<text x="455.0" y="917.8" font-size="28.5" text-anchor="middle" fill="#1a1a1a" stroke="#1a1a1a" stroke-width="0.45">20</text>
<text x="578.0" y="917.8" font-size="28.5" text-anchor="middle" fill="#1a1a1a" stroke="#1a1a1a" stroke-width="0.45">30</text>
<text x="701.0" y="917.8" font-size="28.5" text-anchor="middle" fill="#1a1a1a" stroke="#1a1a1a" stroke-width="0.45">40</text>
<text x="824.3" y="915" font-size="28.5" text-anchor="middle" fill="#1a1a1a" stroke="#1a1a1a" stroke-width="0.45">50</text>
<text x="947.0" y="915" font-size="28.5" text-anchor="middle" fill="#1a1a1a" stroke="#1a1a1a" stroke-width="0.45">60</text>
<text x="500" y="951" font-size="28.5" textLength="139" lengthAdjust="spacingAndGlyphs" fill="#1a1a1a" stroke="#1a1a1a" stroke-width="0.45">Time (min)</text>
<text x="77.5" y="977" font-size="28.5" transform="rotate(-90 77.5 977)" textLength="436.5" lengthAdjust="spacingAndGlyphs" fill="#1a1a1a" stroke="#1a1a1a" stroke-width="0.45">Normalized NMDAR-eEPSCs (%)</text>
<text x="5.5" y="520.3" font-size="33" font-weight="bold" fill="#000" stroke="#000" stroke-width="0.45">b</text>
</g>
<g id="panel-c">
<rect x="1118.9" y="632.8" width="45.8" height="180.6" fill="#deebc0"/>
<rect x="1188.5" y="681.3" width="46" height="132.1" fill="#fde4c3"/>
<line x1="1095.70" y1="596.00" x2="1095.70" y2="814.80" stroke="#000" stroke-width="2.9"/>
<line x1="1088.30" y1="813.40" x2="1259.00" y2="813.40" stroke="#000" stroke-width="2.9"/>
<line x1="1088.30" y1="597.40" x2="1095.70" y2="597.40" stroke="#000" stroke-width="2.9"/>
<line x1="1088.30" y1="669.40" x2="1095.70" y2="669.40" stroke="#000" stroke-width="2.9"/>
<line x1="1088.30" y1="741.40" x2="1095.70" y2="741.40" stroke="#000" stroke-width="2.9"/>
<line x1="1141.60" y1="813.40" x2="1141.60" y2="822.00" stroke="#000" stroke-width="2.9"/>
<line x1="1211.30" y1="813.40" x2="1211.30" y2="822.00" stroke="#000" stroke-width="2.9"/>
<line x1="1141.70" y1="630.52" x2="1211.30" y2="642.04" stroke="#000" stroke-width="2.9"/>
<line x1="1141.70" y1="634.12" x2="1211.30" y2="634.84" stroke="#000" stroke-width="2.9"/>
<line x1="1141.70" y1="622.60" x2="1211.30" y2="668.68" stroke="#000" stroke-width="2.9"/>
<line x1="1141.70" y1="633.40" x2="1211.30" y2="736.72" stroke="#000" stroke-width="2.9"/>
<line x1="1141.70" y1="603.52" x2="1211.30" y2="622.24" stroke="#000" stroke-width="2.9"/>
<line x1="1141.70" y1="617.92" x2="1211.30" y2="653.20" stroke="#000" stroke-width="2.9"/>
<line x1="1141.70" y1="597.40" x2="1211.30" y2="599.92" stroke="#000" stroke-width="2.9"/>
<line x1="1141.70" y1="665.08" x2="1211.30" y2="784.60" stroke="#000" stroke-width="2.9"/>
<line x1="1141.70" y1="674.44" x2="1211.30" y2="759.04" stroke="#000" stroke-width="2.9"/>
<line x1="1141.70" y1="647.80" x2="1211.30" y2="751.12" stroke="#000" stroke-width="2.9"/>
<line x1="1141.70" y1="660.40" x2="1211.30" y2="707.92" stroke="#000" stroke-width="2.9"/>
<line x1="1141.70" y1="605.68" x2="1211.30" y2="607.84" stroke="#000" stroke-width="2.9"/>
<circle cx="1141.7" cy="630.5" r="6.7" fill="#a9a56f"/>
<circle cx="1211.3" cy="642.0" r="6.7" fill="#a9a56f"/>
<circle cx="1141.7" cy="634.1" r="6.7" fill="#d8a9ae"/>
<circle cx="1211.3" cy="634.8" r="6.7" fill="#d8a9ae"/>
<circle cx="1141.7" cy="622.6" r="6.7" fill="#d4b59f"/>
<circle cx="1211.3" cy="668.7" r="6.7" fill="#d4b59f"/>
<circle cx="1141.7" cy="633.4" r="6.7" fill="#cccb8b"/>
<circle cx="1211.3" cy="736.7" r="6.7" fill="#cccb8b"/>
<circle cx="1141.7" cy="603.5" r="6.7" fill="#edf1c1"/>
<circle cx="1211.3" cy="622.2" r="6.7" fill="#edf1c1"/>
<circle cx="1141.7" cy="617.9" r="6.7" fill="#fdd7b4"/>
<circle cx="1211.3" cy="653.2" r="6.7" fill="#fdd7b4"/>
<circle cx="1141.7" cy="597.4" r="6.7" fill="#c9e4bd"/>
<circle cx="1211.3" cy="599.9" r="6.7" fill="#c9e4bd"/>
<circle cx="1141.7" cy="665.1" r="6.7" fill="#c7e8e0"/>
<circle cx="1211.3" cy="784.6" r="6.7" fill="#c7e8e0"/>
<circle cx="1141.7" cy="674.4" r="6.7" fill="#a0d3a5"/>
<circle cx="1211.3" cy="759.0" r="6.7" fill="#a0d3a5"/>
<circle cx="1141.7" cy="647.8" r="6.7" fill="#6ab82d"/>
<circle cx="1211.3" cy="751.1" r="6.7" fill="#6ab82d"/>
<circle cx="1141.7" cy="660.4" r="6.7" fill="#a9dbcf"/>
<circle cx="1211.3" cy="707.9" r="6.7" fill="#a9dbcf"/>
<circle cx="1141.7" cy="605.7" r="6.7" fill="#e71f19"/>
<circle cx="1211.3" cy="607.8" r="6.7" fill="#e71f19"/>
<text x="1077.5" y="606" font-size="28.5" text-anchor="end" fill="#1a1a1a" stroke="#1a1a1a" stroke-width="0.45">100</text>
<text x="1075.5" y="677.4" font-size="28.5" text-anchor="end" fill="#1a1a1a" stroke="#1a1a1a" stroke-width="0.45">80</text>
<text x="1075.5" y="750.7" font-size="28.5" text-anchor="end" fill="#1a1a1a" stroke="#1a1a1a" stroke-width="0.45">60</text>
<text x="1075.5" y="822.7" font-size="28.5" text-anchor="end" fill="#1a1a1a" stroke="#1a1a1a" stroke-width="0.45">40</text>
<text x="1016.6" y="830" font-size="28.5" transform="rotate(-90 1016.6 830)" textLength="253" lengthAdjust="spacingAndGlyphs" fill="#1a1a1a" stroke="#1a1a1a" stroke-width="0.45" xml:space="preserve">Percentage&#160;&#160;(100%)</text>
<text x="1151" y="842.2" font-size="29.3" text-anchor="end" transform="rotate(-45 1151 842.2)" textLength="234" lengthAdjust="spacingAndGlyphs" fill="#1a1a1a" stroke="#1a1a1a" stroke-width="0.45">Maximal blockade</text>
<text x="1222" y="843" font-size="29.3" text-anchor="end" transform="rotate(-45 1222 843)" textLength="291" lengthAdjust="spacingAndGlyphs" fill="#1a1a1a" stroke="#1a1a1a" stroke-width="0.45">Blockade at 50-60 min</text>
<text x="965.2" y="520.6" font-size="33" font-weight="bold" fill="#000" stroke="#000" stroke-width="0.45">c</text>
</g>
<g id="panel-d">
<line x1="1394.60" y1="540.50" x2="1394.60" y2="816.70" stroke="#000" stroke-width="3.0"/>
<line x1="1385.20" y1="815.20" x2="1670.00" y2="815.20" stroke="#000" stroke-width="3.0"/>
<line x1="1385.20" y1="542.00" x2="1394.60" y2="542.00" stroke="#000" stroke-width="3.0"/>
<line x1="1385.20" y1="610.30" x2="1394.60" y2="610.30" stroke="#000" stroke-width="3.0"/>
<line x1="1385.20" y1="678.60" x2="1394.60" y2="678.60" stroke="#000" stroke-width="3.0"/>
<line x1="1385.20" y1="746.90" x2="1394.60" y2="746.90" stroke="#000" stroke-width="3.0"/>
<line x1="1394.60" y1="815.20" x2="1394.60" y2="824.80" stroke="#000" stroke-width="3.0"/>
<line x1="1449.20" y1="815.20" x2="1449.20" y2="824.80" stroke="#000" stroke-width="3.0"/>
<line x1="1503.60" y1="815.20" x2="1503.60" y2="824.80" stroke="#000" stroke-width="3.0"/>
<line x1="1558.60" y1="815.20" x2="1558.60" y2="824.80" stroke="#000" stroke-width="3.0"/>
<line x1="1613.60" y1="815.20" x2="1613.60" y2="824.80" stroke="#000" stroke-width="3.0"/>
<line x1="1668.40" y1="815.20" x2="1668.40" y2="824.80" stroke="#000" stroke-width="3.0"/>
<circle cx="1568" cy="793.5" r="8.1" fill="#a9a56f"/>
<circle cx="1556" cy="814.4" r="8.1" fill="#d8a9ae"/>
<circle cx="1591.5" cy="727.9" r="8.1" fill="#d4b59f"/>
<circle cx="1557.5" cy="619.1" r="8.1" fill="#cccb8b"/>
<circle cx="1649.5" cy="780.2" r="8.1" fill="#edf1c1"/>
<circle cx="1605.3" cy="748.2" r="8.1" fill="#fdd7b4"/>
<circle cx="1668.4" cy="810.5" r="8.1" fill="#c9e4bd"/>
<circle cx="1460.2" cy="588.8" r="8.1" fill="#c7e8e0"/>
<circle cx="1432.8" cy="654.7" r="8.1" fill="#a0d3a5"/>
<circle cx="1515.1" cy="619.1" r="8.1" fill="#6ab82d"/>
<circle cx="1475.1" cy="725.3" r="8.1" fill="#a9dbcf"/>
<circle cx="1642.5" cy="811.5" r="8.1" fill="#e71f19"/>
<line x1="1432.90" y1="626.60" x2="1662.70" y2="803.00" stroke="#000" stroke-width="2.9"/>
<text x="1375.8" y="550.6" font-size="28.5" text-anchor="end" fill="#1a1a1a" stroke="#1a1a1a" stroke-width="0.45">40</text>
<text x="1375.8" y="618.9" font-size="28.5" text-anchor="end" fill="#1a1a1a" stroke="#1a1a1a" stroke-width="0.45">30</text>
<text x="1375.8" y="687.2" font-size="28.5" text-anchor="end" fill="#1a1a1a" stroke="#1a1a1a" stroke-width="0.45">20</text>
<text x="1375.8" y="755.5" font-size="28.5" text-anchor="end" fill="#1a1a1a" stroke="#1a1a1a" stroke-width="0.45">10</text>
<text x="1375.8" y="823.8" font-size="28.5" text-anchor="end" fill="#1a1a1a" stroke="#1a1a1a" stroke-width="0.45">0</text>
<text x="1393.2" y="857.6" font-size="28.5" text-anchor="middle" fill="#1a1a1a" stroke="#1a1a1a" stroke-width="0.45">75</text>
<text x="1447" y="857.6" font-size="28.5" text-anchor="middle" fill="#1a1a1a" stroke="#1a1a1a" stroke-width="0.45">80</text>
<text x="1500.9" y="857.6" font-size="28.5" text-anchor="middle" fill="#1a1a1a" stroke="#1a1a1a" stroke-width="0.45">85</text>
<text x="1558.8" y="857.6" font-size="28.5" text-anchor="middle" fill="#1a1a1a" stroke="#1a1a1a" stroke-width="0.45">90</text>
<text x="1609.8" y="857.6" font-size="28.5" text-anchor="middle" fill="#1a1a1a" stroke="#1a1a1a" stroke-width="0.45">95</text>
<text x="1649" y="857.6" font-size="28.5" textLength="44.3" lengthAdjust="spacingAndGlyphs" fill="#1a1a1a" stroke="#1a1a1a" stroke-width="0.45">100</text>
<text x="1386" y="897.6" font-size="28.5" textLength="286" lengthAdjust="spacingAndGlyphs" fill="#1a1a1a" stroke="#1a1a1a" stroke-width="0.45">Maximal blockade (%)</text>
<text x="1324.8" y="771" font-size="28.5" transform="rotate(-90 1324.8 771)" textLength="175" lengthAdjust="spacingAndGlyphs" fill="#1a1a1a" stroke="#1a1a1a" stroke-width="0.45">Recovery (%)</text>
<text x="1572.6" y="549.5" font-size="28.5" fill="#1a1a1a" stroke="#1a1a1a" stroke-width="0.45" textLength="123.8" lengthAdjust="spacingAndGlyphs">R<tspan font-size="19" dy="-16">2</tspan><tspan dy="16"> = 0.50</tspan></text>
<text x="1573.2" y="595.4" font-size="28.5" fill="#1a1a1a" stroke="#1a1a1a" stroke-width="0.45" textLength="103" lengthAdjust="spacingAndGlyphs"><tspan font-style="italic">P</tspan> = 0.01</text>
<text x="1243.4" y="520.6" font-size="33" font-weight="bold" fill="#000" stroke="#000" stroke-width="0.45">d</text>
</g>
</svg>
</body>
</html>
